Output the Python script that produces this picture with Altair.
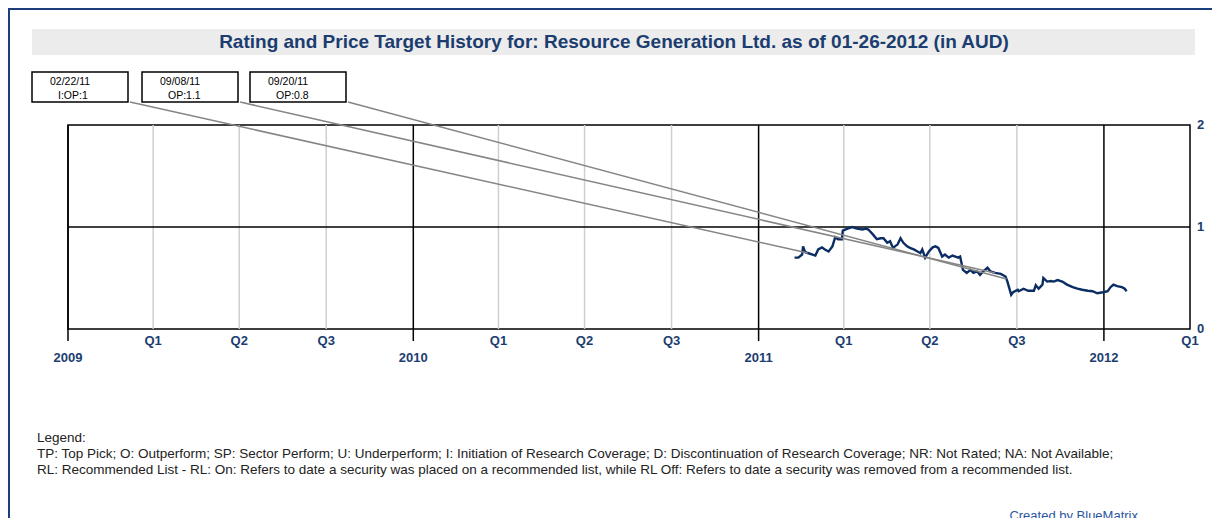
import altair as alt
import pandas as pd
import numpy as np

# ---------------- data ----------------
price_dates = [
    "2011-02-08", "2011-02-12", "2011-02-16", "2011-02-17", "2011-02-19", "2011-02-22",
    "2011-02-27", "2011-03-02", "2011-03-05", "2011-03-09", "2011-03-12", "2011-03-16",
    "2011-03-20", "2011-03-23", "2011-03-26", "2011-03-30", "2011-03-31", "2011-04-05",
    "2011-04-10", "2011-04-15", "2011-04-21", "2011-04-24", "2011-04-27", "2011-05-02",
    "2011-05-06", "2011-05-10", "2011-05-13", "2011-05-17", "2011-05-20", "2011-05-23",
    "2011-05-28", "2011-05-31", "2011-06-03", "2011-06-07", "2011-06-10", "2011-06-14",
    "2011-06-18", "2011-06-21", "2011-06-23", "2011-06-26", "2011-06-30", "2011-07-04",
    "2011-07-07", "2011-07-10", "2011-07-14", "2011-07-17", "2011-07-21", "2011-07-25",
    "2011-07-28", "2011-07-31", "2011-08-02", "2011-08-05", "2011-08-09", "2011-08-13",
    "2011-08-16", "2011-08-20", "2011-08-23", "2011-08-27", "2011-08-31", "2011-09-03",
    "2011-09-08", "2011-09-14", "2011-09-19", "2011-09-21", "2011-09-25", "2011-09-27",
    "2011-10-02", "2011-10-03", "2011-10-08", "2011-10-13", "2011-10-19", "2011-10-21",
    "2011-10-24", "2011-10-28", "2011-10-29", "2011-11-02", "2011-11-06", "2011-11-09",
    "2011-11-13", "2011-11-18", "2011-11-23", "2011-11-29", "2011-12-04", "2011-12-09",
    "2011-12-15", "2011-12-20", "2011-12-25", "2011-12-31", "2012-01-05", "2012-01-08",
    "2012-01-11", "2012-01-15", "2012-01-20", "2012-01-23", "2012-01-25",
]
price_values = [
    0.70, 0.70, 0.73, 0.81, 0.755, 0.745,
    0.73, 0.72, 0.78, 0.80, 0.78, 0.76,
    0.81, 0.90, 0.88, 0.88, 0.965, 0.985,
    1.00, 0.985, 0.975, 0.985, 0.975, 0.925,
    0.88, 0.89, 0.89, 0.845, 0.86, 0.795,
    0.83, 0.89, 0.845, 0.81, 0.795, 0.78,
    0.76, 0.745, 0.78, 0.70, 0.76, 0.80,
    0.81, 0.795, 0.71, 0.73, 0.70, 0.72,
    0.71, 0.70, 0.71, 0.58, 0.55, 0.58,
    0.55, 0.565, 0.53, 0.57, 0.60, 0.565,
    0.55, 0.54, 0.515, 0.465, 0.335, 0.36,
    0.385, 0.37, 0.395, 0.375, 0.375, 0.43,
    0.395, 0.435, 0.50, 0.465, 0.47, 0.465,
    0.48, 0.465, 0.435, 0.41, 0.395, 0.385,
    0.375, 0.37, 0.35, 0.36, 0.37, 0.41,
    0.435, 0.42, 0.41, 0.395, 0.37,
]

rating_dates = ["2011-02-22", "2011-09-08", "2011-09-20"]
rating_date_text = ["02/22/11", "09/08/11", "09/20/11"]
rating_text = ["I:OP:1", "OP:1.1", "OP:0.8"]

quarter_dates = ["2009-04-01", "2009-07-01", "2009-10-01",
                 "2010-04-01", "2010-07-01", "2010-10-01",
                 "2011-04-01", "2011-07-01", "2011-10-01",
                 "2012-04-01"]
quarter_labels = ["Q1", "Q2", "Q3", "Q1", "Q2", "Q3", "Q1", "Q2", "Q3", "Q1"]
year_dates = ["2009-01-01", "2010-01-01", "2011-01-01", "2012-01-01"]
year_labels = ["2009", "2010", "2011", "2012"]
y_ticks = [0, 1, 2]
y_tick_labels = ["0", "1", "2"]

title_text = "Rating and Price Target History for: Resource Generation Ltd. as of 01-26-2012 (in AUD)"
legend_lines = [
    "Legend:",
    "TP: Top Pick; O: Outperform; SP: Sector Perform; U: Underperform; I: Initiation of Research Coverage; D: Discontinuation of Research Coverage; NR: Not Rated; NA: Not Available;",
    "RL: Recommended List - RL: On: Refers to date a security was placed on a recommended list, while RL Off: Refers to date a security was removed from a recommended list.",
]
credit_text = "Created by BlueMatrix"

# ---------------- layout / style ----------------
W, H = 1122, 204
PAD_L, PAD_T = 60, 117
FONT = "Liberation Sans"
NAVY = "#1b3d70"
LINE = "#0b2d63"

xscale = alt.Scale(type="utc", nice=False,
                   domain=[alt.DateTime(year=2009, month=1, date=1, utc=True),
                           alt.DateTime(year=2012, month=4, date=1, utc=True)])
yscale = alt.Scale(domain=[0, 2], nice=False, zero=True)

price_df = pd.DataFrame({"date": price_dates, "price": price_values})
ts = pd.to_datetime(price_df["date"]).astype("int64").to_numpy()
rating_ts = pd.to_datetime(pd.Series(rating_dates)).astype("int64").to_numpy()
rating_price = np.interp(rating_ts, ts, price_df["price"].to_numpy())

q_df = pd.DataFrame({"date": quarter_dates, "label": quarter_labels})
q_grid_df = q_df[q_df["date"] < "2012-04-01"]
y_df = pd.DataFrame({"date": year_dates, "label": year_labels})
ylab_df = pd.DataFrame({"v": y_ticks, "label": y_tick_labels})
ygrid_df = ylab_df[(ylab_df["v"] > 0) & (ylab_df["v"] < 2)]

one = pd.DataFrame({"k": [0]})

layers = []

# outer border (top and left)
layers.append(alt.Chart(one).mark_rule(color="#1c3f7c", strokeWidth=2).encode(
    x=alt.value(-60), x2=alt.value(W + 22), y=alt.value(-116), y2=alt.value(-116)))
layers.append(alt.Chart(one).mark_rule(color="#1c3f7c", strokeWidth=2).encode(
    x=alt.value(-59), x2=alt.value(-59), y=alt.value(-117), y2=alt.value(H + 200)))

# title band and title
layers.append(alt.Chart(one).mark_rect(color="#ececec").encode(
    x=alt.value(-36), x2=alt.value(1127), y=alt.value(-96), y2=alt.value(-70)))
layers.append(alt.Chart(one).mark_text(text=title_text, font=FONT, fontSize=19,
                                       fontWeight="bold", color=NAVY,
                                       align="center", baseline="middle").encode(
    x=alt.value(546), y=alt.value(-83)))

# quarter gridlines
layers.append(alt.Chart(q_grid_df).mark_rule(color="#cfcfcf", strokeWidth=1.5).encode(
    x=alt.X("date:T", scale=xscale, axis=None), y=alt.value(0), y2=alt.value(H)))
# year lines (extend below axis)
layers.append(alt.Chart(y_df).mark_rule(color="black", strokeWidth=1.5).encode(
    x=alt.X("date:T", scale=xscale, axis=None), y=alt.value(0), y2=alt.value(H + 12)))
# horizontal gridline
layers.append(alt.Chart(ygrid_df).mark_rule(color="black", strokeWidth=1.5).encode(
    y=alt.Y("v:Q", scale=yscale, axis=None)))

# x labels
layers.append(alt.Chart(q_df).mark_text(font=FONT, fontSize=13, fontWeight="bold",
                                        color=NAVY, baseline="middle").encode(
    x=alt.X("date:T", scale=xscale, axis=None), y=alt.value(H + 12), text="label:N"))
layers.append(alt.Chart(y_df).mark_text(font=FONT, fontSize=13, fontWeight="bold",
                                        color=NAVY, baseline="middle").encode(
    x=alt.X("date:T", scale=xscale, axis=None), y=alt.value(H + 29), text="label:N"))

# right-side y labels
layers.append(alt.Chart(ylab_df).mark_text(font=FONT, fontSize=13, fontWeight="bold",
                                           color=NAVY, align="left", baseline="middle").encode(
    y=alt.Y("v:Q", scale=yscale, axis=None), x=alt.value(W + 7), text="label:N"))

# price line
layers.append(alt.Chart(price_df).mark_line(color=LINE, strokeWidth=2.4).encode(
    x=alt.X("date:T", scale=xscale, axis=None),
    y=alt.Y("price:Q", scale=yscale, axis=None)))

# rating boxes and leader lines
box_lefts = [-36, 74, 182]
BOX_W, BOX_TOP, BOX_BOT = 96, -53, -23
for i in range(len(rating_dates)):
    bl = box_lefts[i]
    rdf = pd.DataFrame({"date": [rating_dates[i]], "price": [float(rating_price[i])],
                        "dtext": [rating_date_text[i]], "rtext": [rating_text[i]]})
    layers.append(alt.Chart(rdf).mark_rule(color="#858585", strokeWidth=1.5).encode(
        x=alt.X("date:T", scale=xscale, axis=None),
        y=alt.Y("price:Q", scale=yscale, axis=None),
        x2=alt.value(bl + BOX_W + 2), y2=alt.value(BOX_BOT)))
    layers.append(alt.Chart(rdf).mark_rect(fill="white", stroke="black", strokeWidth=1.5).encode(
        x=alt.value(bl), x2=alt.value(bl + BOX_W), y=alt.value(BOX_TOP), y2=alt.value(BOX_BOT)))
    layers.append(alt.Chart(rdf).mark_text(font=FONT, fontSize=10.5, color="black",
                                           align="left", baseline="middle").encode(
        x=alt.value(bl + 18), y=alt.value(BOX_TOP + 9.5), text="dtext:N"))
    layers.append(alt.Chart(rdf).mark_text(font=FONT, fontSize=10.5, color="black",
                                           align="left", baseline="middle").encode(
        x=alt.value(bl + 26), y=alt.value(BOX_TOP + 23.5), text="rtext:N"))

# legend text
for i, line in enumerate(legend_lines):
    layers.append(alt.Chart(one).mark_text(text=line, font=FONT, fontSize=13.5, color="#222222",
                                           align="left", baseline="middle").encode(
        x=alt.value(-31), y=alt.value(313 + 16 * i)))

layers.append(alt.Chart(one).mark_text(text=credit_text, font=FONT, fontSize=13, color="#2a56a0",
                                       align="right", baseline="middle").encode(
    x=alt.value(1070), y=alt.value(391)))

chart = alt.layer(*layers).properties(
    width=W, height=H,
    background="white",
    autosize=alt.AutoSizeParams(type="none"),
    padding={"left": PAD_L, "top": PAD_T, "right": 22, "bottom": 510 - PAD_T - H},
).configure_view(stroke="black", strokeWidth=1.5)

chart.save("out.html", embed_options={"renderer": "svg", "actions": False})
